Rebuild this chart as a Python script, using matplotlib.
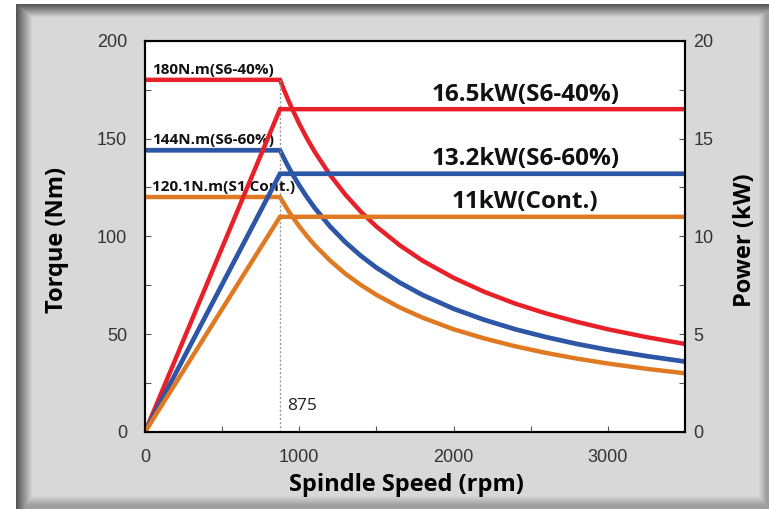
import numpy as np
import matplotlib.pyplot as plt

# Spindle speed / torque / power readings (S6-40%, S6-60%, S1 continuous)
speed_torque = [0, 875, 900, 925, 950, 1000, 1050, 1100, 1200, 1300, 1400, 1500, 1650, 1800,
                2000, 2200, 2400, 2600, 2800, 3000, 3250, 3500]
torque_s6_40 = [180, 180, 175, 170.3, 165.8, 157.5, 150, 143.2, 131.3, 121.2, 112.5, 105, 95.5, 87.5,
                78.8, 71.6, 65.6, 60.6, 56.3, 52.5, 48.5, 45]
torque_s6_60 = [144, 144, 140, 136.2, 132.6, 126, 120, 114.5, 105, 96.9, 90, 84, 76.4, 70,
                63, 57.3, 52.5, 48.5, 45, 42, 38.8, 36]
torque_cont = [120.1, 120.1, 116.8, 113.6, 110.6, 105.1, 100.1, 95.5, 87.6, 80.8, 75.1, 70.1, 63.7, 58.4,
               52.5, 47.8, 43.8, 40.4, 37.5, 35, 32.3, 30]

speed_power = [0, 875, 3500]
power_s6_40 = [0, 16.5, 16.5]
power_s6_60 = [0, 13.2, 13.2]
power_cont = [0, 11, 11]

base_speed = 875
torque_labels = ['180N.m(S6-40%)', '144N.m(S6-60%)', '120.1N.m(S1 Cont.)']
power_labels = ['16.5kW(S6-40%)', '13.2kW(S6-60%)', '11kW(Cont.)']

red, blue, orange = '#e8202a', '#2d56a6', '#e07a22'
bold_font = ['Open Sans', 'DejaVu Sans']
tick_font = ['Liberation Sans', 'DejaVu Sans']

fig = plt.figure(figsize=(7.69, 5.09), dpi=100)

# framed grey background with soft shadow edges
H, W = 509, 769
cols = np.arange(W)
rows = np.arange(H)
left = np.clip((cols - 16) / 16.0, 0, 1)
top = np.clip((rows - 4) / 13.0, 0, 1)
right = np.clip((766 - cols) / 8.0, 0, 1)
bottom = np.clip((505 - rows) / 10.0, 0, 1)
shade = np.minimum.outer(top, left)
shade2 = np.minimum.outer(bottom, right)
bg = 0.33 + (0.85 - 0.33) * shade
bg = np.minimum(bg, 0.62 + 0.23 * shade2)
bg[:, :16] = 1.0
bg[:4, :] = 1.0
bgax = fig.add_axes([0, 0, 1, 1], zorder=-1)
bgax.imshow(np.dstack([bg, bg, bg]), aspect='auto', interpolation='bilinear')
bgax.axis('off')

ax = fig.add_axes([145 / W, 77 / H, 540 / W, 391.3 / H])
ax.set_facecolor('white')
ax2 = ax.twinx()

ax.plot(speed_torque, torque_s6_40, color=red, lw=3.2, solid_joinstyle='miter')
ax.plot(speed_torque, torque_s6_60, color=blue, lw=3.4, solid_joinstyle='miter')
ax.plot(speed_torque, torque_cont, color=orange, lw=3.2, solid_joinstyle='miter')
ax2.plot(speed_power, power_s6_40, color=red, lw=3.2, solid_joinstyle='miter')
ax2.plot(speed_power, power_s6_60, color=blue, lw=3.4, solid_joinstyle='miter')
ax2.plot(speed_power, power_cont, color=orange, lw=3.2, solid_joinstyle='miter')

ax.vlines(base_speed, 0, torque_s6_40[0], colors='#999999', linestyles=(0, (1.5, 1.5)), lw=1)
ax.text(base_speed + 45, 11, str(base_speed), fontsize=12.5, family=bold_font, color='#222222')

for lab, t in zip(torque_labels, [torque_s6_40[0], torque_s6_60[0], torque_cont[0]]):
    ax.text(45, t + 1.5, lab, fontsize=11, fontweight='bold', family=bold_font,
            color='#111111', va='bottom', ha='left')

for lab, p in zip(power_labels, [power_s6_40[-1], power_s6_60[-1], power_cont[-1]]):
    ax2.text(2465, p + 0.12, lab, fontsize=17.5, fontweight='bold', family=bold_font,
             color='#111111', va='bottom', ha='center')

ax.set_xlim(0, 3500)
ax.set_ylim(0, 200)
ax2.set_ylim(0, 20)
ax.set_xticks([0, 1000, 2000, 3000])
ax.set_xticks([500, 1500, 2500], minor=True)
ax.set_yticks([0, 50, 100, 150, 200])
ax.set_yticks([25, 75, 125, 175], minor=True)
ax2.set_yticks([0, 5, 10, 15, 20])
ax2.set_yticks([2.5, 7.5, 12.5, 17.5], minor=True)

for a in (ax, ax2):
    for s in a.spines.values():
        s.set_linewidth(1.5)
        s.set_color('black')
ax.tick_params(axis='both', which='both', direction='in', length=4, width=0.8, color='#555555',
               labelsize=13, labelcolor='#333333')
ax.tick_params(axis='y', which='major', pad=13)
ax.tick_params(axis='x', which='major', pad=12)
ax2.tick_params(axis='y', which='both', direction='in', length=4, width=0.8, color='#555555',
                labelsize=13, labelcolor='#333333', pad=6)
for lbl in ax.get_xticklabels() + ax.get_yticklabels() + ax2.get_yticklabels():
    lbl.set_family(tick_font)

ax.set_xlabel('Spindle Speed (rpm)', fontsize=17, fontweight='bold', family=bold_font)
ax.set_ylabel('Torque (Nm)', fontsize=17, fontweight='bold', family=bold_font)
ax2.set_ylabel('Power (kW)', fontsize=17, fontweight='bold', family=bold_font)
ax.xaxis.set_label_coords((406 - 145) / 540, -(485 - 432) / 391.3)
ax.yaxis.set_label_coords(-(145 - 57) / 540, 0.49)
ax2.yaxis.set_label_coords(1 + (745 - 685) / 540, 0.49)
ax.xaxis.label.set_va('center')
ax.yaxis.label.set_va('center')
ax2.yaxis.label.set_va('center')

fig.savefig('out.png', dpi=100)
